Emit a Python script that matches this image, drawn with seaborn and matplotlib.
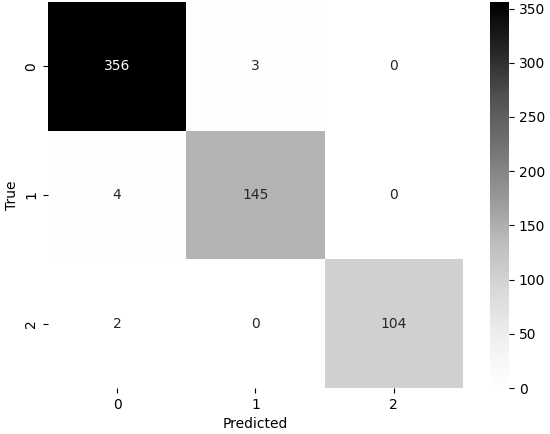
import numpy as np
import pandas as pd
import matplotlib
matplotlib.use("Agg")
import matplotlib.pyplot as plt
import seaborn as sns

# Matriz de confusión
labels = ["0", "1", "2"]
row_0 = [356, 3, 0]
row_1 = [4, 145, 0]
row_2 = [2, 0, 104]

cm = pd.DataFrame([row_0, row_1, row_2], index=labels, columns=labels)

fig = plt.figure(figsize=(5.5, 4.34), dpi=100)
ax = fig.add_axes([48 / 550, 1 - 388 / 434, 415 / 550, 386 / 434])
cax = fig.add_axes([490 / 550, 1 - 388 / 434, 19 / 550, 386 / 434])

sns.heatmap(cm, annot=True, fmt="d", cmap="Greys", ax=ax, cbar_ax=cax)
ax.set_xlabel("Predicted")
ax.set_ylabel("True")

fig.savefig("out.png", dpi=100, facecolor="white")
